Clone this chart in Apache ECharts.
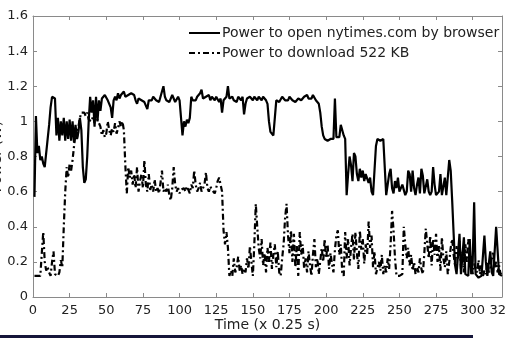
<!DOCTYPE html>
<html>
<head>
<meta charset="utf-8">
<script src="https://cdn.jsdelivr.net/npm/echarts@6/dist/echarts.min.js"></script>
<style>
html,body{margin:0;padding:0;background:#fff;}
#chart{width:507px;height:338px;}
</style>
</head>
<body>
<div id="chart"></div>
<script>
// sample index of the first value (time in units of 0.25 s)
const timeStart = 1;

const seriesNames = ['Power to open nytimes.com by browser', 'Power to download 522 KB'];

const browserPower = [
  0.57,1.03,0.82,0.86,0.78,0.80,0.76,0.74,0.73,0.90,
  0.98,1.08,1.14,1.14,1.13,0.92,1.02,0.89,1.00,0.92,
  1.02,0.89,1.00,0.90,1.01,0.89,1.00,0.88,0.98,0.90,
  0.94,1.02,0.95,0.74,0.65,0.67,0.80,1.00,1.14,1.05,
  1.12,0.97,1.14,1.00,1.12,1.06,1.13,1.12,1.15,1.14,
  1.12,1.13,1.08,1.02,1.12,1.14,1.12,1.16,1.13,1.15,
  1.14,1.17,1.14,1.13,1.15,1.16,1.16,1.17,1.15,1.12,
  1.10,1.13,1.14,1.12,1.13,1.11,1.10,1.07,1.12,1.13,
  1.12,1.14,1.13,1.12,1.13,1.11,1.14,1.15,1.20,1.14,
  1.12,1.13,1.11,1.12,1.15,1.13,1.11,1.12,1.14,1.12,
  1.13,0.92,1.00,0.97,1.01,0.99,1.02,1.14,1.12,1.13,
  1.12,1.14,1.13,1.16,1.18,1.13,1.12,1.14,1.13,1.15,
  1.12,1.14,1.13,1.12,1.14,1.13,1.11,1.13,1.05,1.12,
  1.13,1.14,1.20,1.13,1.12,1.14,1.12,1.13,1.11,1.14,
  1.13,1.12,1.14,1.04,1.10,1.13,1.12,1.14,1.13,1.12,
  1.14,1.13,1.12,1.14,1.13,1.12,1.14,1.13,1.12,1.10,
  1.00,0.94,0.93,0.92,0.92,1.12,1.13,1.11,1.12,1.14,
  1.13,1.12,1.13,1.12,1.14,1.13,1.12,1.13,1.11,1.12,
  1.13,1.14,1.12,1.13,1.14,1.13,1.15,1.13,1.14,1.13,
  1.15,1.14,1.12,1.12,1.10,1.05,0.97,0.92,0.90,0.90,
  0.89,0.90,0.90,0.89,0.90,1.13,0.91,0.90,0.91,0.98,
  0.99,0.92,0.90,0.58,0.70,0.80,0.75,0.66,0.82,0.80,
  0.70,0.66,0.73,0.68,0.72,0.66,0.70,0.69,0.65,0.68,
  0.60,0.58,0.72,0.86,0.90,0.91,0.89,0.90,0.90,0.89,
  0.58,0.58,0.70,0.73,0.62,0.59,0.66,0.62,0.68,0.60,
  0.59,0.64,0.65,0.58,0.60,0.72,0.70,0.60,0.72,0.62,
  0.58,0.64,0.68,0.59,0.73,0.69,0.59,0.60,0.67,0.60,
  0.58,0.60,0.74,0.64,0.58,0.58,0.60,0.70,0.58,0.58,
  0.68,0.58,0.58,0.78,0.72,0.55,0.36,0.18,0.13,0.13,
  0.36,0.13,0.12,0.34,0.13,0.12,0.12,0.33,0.13,0.20,
  0.54,0.13,0.12,0.11,0.12,0.12,0.12,0.35,0.20,0.12,
  0.13,0.26,0.14,0.12,0.12,0.40,0.40,0.13,0.12,0.12
];

const downloadPower = [
  0.12,0.12,0.12,0.13,0.12,0.25,0.37,0.20,0.15,0.17,
  0.14,0.12,0.20,0.26,0.13,0.12,0.12,0.14,0.21,0.17,
  0.40,0.60,0.74,0.68,0.76,0.72,0.78,0.86,0.93,0.90,
  0.97,1.02,1.05,1.04,1.05,1.03,1.05,1.01,1.02,1.00,
  1.03,0.99,1.00,1.01,1.00,0.97,0.92,0.95,0.91,0.93,
  1.00,0.95,0.92,0.96,0.94,0.99,0.93,0.96,1.00,0.97,
  1.00,0.95,0.75,0.59,0.74,0.68,0.72,0.64,0.70,0.62,
  0.74,0.60,0.66,0.70,0.62,0.78,0.64,0.60,0.70,0.61,
  0.64,0.60,0.67,0.60,0.62,0.59,0.65,0.72,0.60,0.62,
  0.60,0.64,0.58,0.55,0.62,0.74,0.64,0.60,0.62,0.59,
  0.61,0.60,0.62,0.60,0.63,0.61,0.59,0.64,0.62,0.72,
  0.64,0.60,0.62,0.65,0.60,0.62,0.64,0.71,0.62,0.60,
  0.63,0.61,0.60,0.59,0.62,0.66,0.68,0.67,0.60,0.38,
  0.30,0.37,0.28,0.12,0.15,0.12,0.22,0.14,0.17,0.23,
  0.15,0.18,0.13,0.16,0.14,0.22,0.16,0.29,0.20,0.12,
  0.30,0.53,0.40,0.28,0.22,0.33,0.18,0.25,0.14,0.28,
  0.20,0.31,0.16,0.24,0.30,0.17,0.26,0.14,0.12,0.22,
  0.30,0.45,0.53,0.35,0.25,0.38,0.20,0.36,0.17,0.29,
  0.12,0.37,0.24,0.30,0.16,0.22,0.14,0.26,0.18,0.12,
  0.24,0.33,0.17,0.22,0.13,0.12,0.28,0.20,0.33,0.22,
  0.30,0.16,0.25,0.19,0.14,0.27,0.35,0.38,0.24,0.30,
  0.14,0.12,0.37,0.22,0.33,0.18,0.28,0.36,0.21,0.37,
  0.25,0.16,0.38,0.27,0.33,0.19,0.30,0.24,0.43,0.28,
  0.35,0.17,0.26,0.13,0.12,0.20,0.15,0.24,0.13,0.18,
  0.14,0.22,0.16,0.30,0.49,0.38,0.22,0.12,0.12,0.12,
  0.12,0.13,0.40,0.30,0.22,0.28,0.18,0.24,0.15,0.20,
  0.13,0.17,0.14,0.22,0.16,0.13,0.25,0.39,0.30,0.22,
  0.35,0.18,0.33,0.24,0.36,0.20,0.29,0.15,0.34,0.22,
  0.17,0.26,0.13,0.20,0.28,0.33,0.24,0.18,0.29,0.22,
  0.32,0.16,0.26,0.14,0.30,0.20,0.33,0.17,0.24,0.13,
  0.19,0.16,0.14,0.21,0.13,0.18,0.12,0.15,0.13,0.20,
  0.14,0.16,0.22,0.26,0.17,0.20,0.14,0.18,0.13,0.15
];

const xTickValues = [0,25,50,75,100,125,150,175,200,225,250,275,300,320];

const FONT = 'DejaVu Sans';
const AXIS_COLOR = '#8a8a8a';
const TEXT_COLOR = '#222';

function toPairs(arr) {
  return arr.map((v, i) => [timeStart + i, v]);
}

const chart = echarts.init(document.getElementById('chart'), null, {renderer: 'canvas'});

const xCommon = {
  type: 'value', min: 0, max: 320,
  splitLine: {show: false},
  axisLine: {show: true, onZero: false, lineStyle: {color: AXIS_COLOR, width: 1}},
  axisTick: {show: true, inside: true, length: 4, customValues: xTickValues, lineStyle: {color: AXIS_COLOR}}
};
const yCommon = {
  type: 'value', min: 0, max: 1.6, interval: 0.2,
  splitLine: {show: false},
  axisLine: {show: true, onZero: false, lineStyle: {color: AXIS_COLOR, width: 1}},
  axisTick: {show: true, inside: true, length: 4, lineStyle: {color: AXIS_COLOR}}
};

chart.setOption({
  animation: false,
  backgroundColor: '#fff',
  grid: {left: 33, right: 5, top: 16, bottom: 41, containLabel: false, outerBoundsMode: 'none'},
  legend: {
    orient: 'vertical',
    left: 183,
    top: 21,
    itemWidth: 31,
    itemHeight: 2,
    itemGap: 6,
    data: seriesNames,
    textStyle: {fontFamily: FONT, fontSize: 14, color: TEXT_COLOR, padding: [0,0,0,-3]},
    backgroundColor: 'transparent'
  },
  xAxis: [
    Object.assign({}, xCommon, {
      position: 'bottom',
      name: 'Time (x 0.25 s)',
      nameLocation: 'middle',
      nameGap: 21,
      nameMoveOverlap: false,
      nameTextStyle: {fontFamily: FONT, fontSize: 14, color: TEXT_COLOR},
      axisLabel: {show: true, customValues: xTickValues, margin: 7, fontFamily: FONT, fontSize: 13, color: TEXT_COLOR, hideOverlap: false}
    }),
    Object.assign({}, xCommon, {position: 'top', axisLabel: {show: false}})
  ],
  yAxis: [
    Object.assign({}, yCommon, {
      position: 'left',
      name: 'Power (W)',
      nameLocation: 'middle',
      nameGap: 29,
      nameMoveOverlap: false,
      nameTextStyle: {fontFamily: FONT, fontSize: 14, color: TEXT_COLOR},
      axisLabel: {show: true, margin: 5, fontFamily: FONT, fontSize: 13, color: TEXT_COLOR}
    }),
    Object.assign({}, yCommon, {position: 'right', axisLabel: {show: false}})
  ],
  series: [
    {
      name: seriesNames[0], type: 'line', xAxisIndex: 0, yAxisIndex: 0,
      data: toPairs(browserPower),
      symbol: 'none', showSymbol: false,
      lineStyle: {color: '#000', width: 2.2, type: 'solid'},
      itemStyle: {color: '#000'},
      z: 3
    },
    {
      name: seriesNames[1], type: 'line', xAxisIndex: 0, yAxisIndex: 0,
      data: toPairs(downloadPower),
      symbol: 'none', showSymbol: false,
      lineStyle: {color: '#000', width: 2.2, type: [6, 3, 2, 3]},
      itemStyle: {color: '#000'},
      z: 2
    }
  ],
  graphic: [
    {type: 'rect', left: 0, top: 335, shape: {width: 473, height: 3}, style: {fill: '#15163a'}, silent: true}
  ]
});
</script>
</body>
</html>
